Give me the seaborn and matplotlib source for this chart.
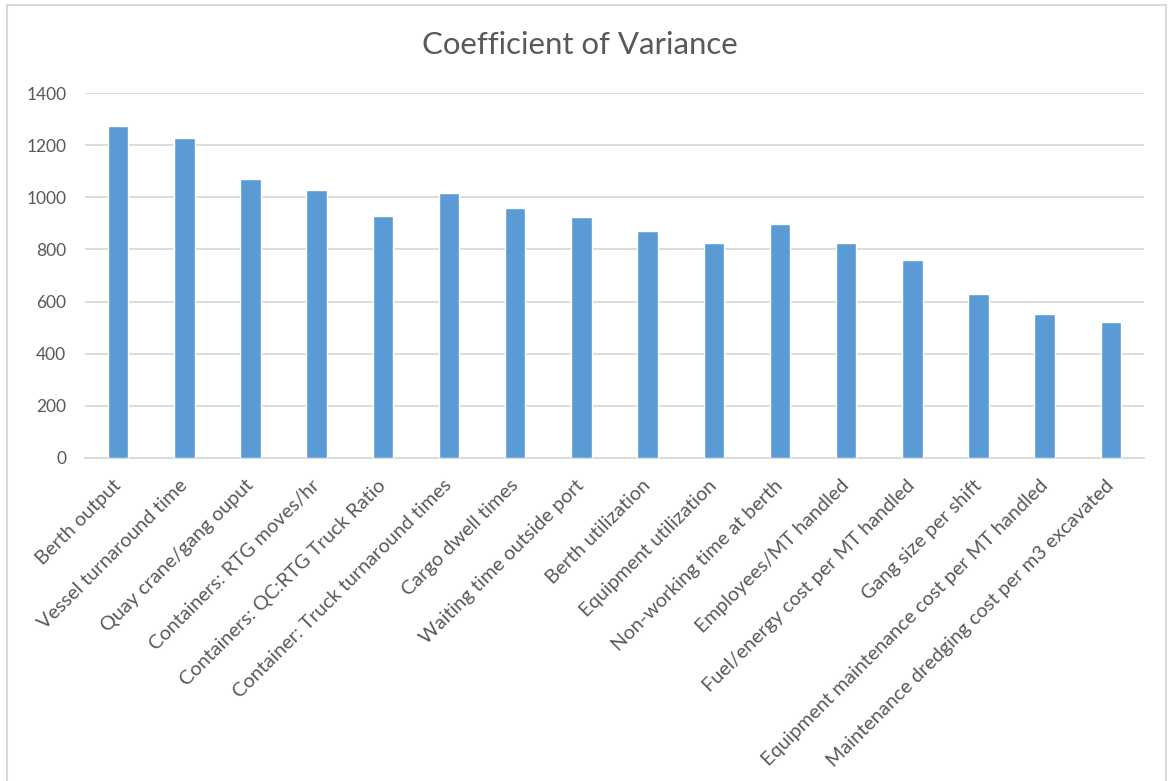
import matplotlib
matplotlib.use("Agg")
import matplotlib.pyplot as plt
import matplotlib.transforms as mtransforms
from matplotlib.patches import Rectangle
import seaborn as sns
import pandas as pd

# Coefficient of variance per port performance indicator
categories = [
    "Berth output",
    "Vessel turnaround time",
    "Quay crane/gang ouput",
    "Containers: RTG moves/hr",
    "Containers: QC:RTG Truck Ratio",
    "Container: Truck turnaround times",
    "Cargo dwell times",
    "Waiting time outside port",
    "Berth utilization",
    "Equipment utilization",
    "Non-working time at berth",
    "Employees/MT handled",
    "Fuel/energy cost per MT handled",
    "Gang size per shift",
    "Equipment maintenance cost per MT handled",
    "Maintenance dredging cost per m3 excavated",
]
values = [1275, 1226, 1071, 1029, 929, 1015, 960, 925,
          872, 824, 898, 824, 759, 629, 551, 521]
y_ticks = [0, 200, 400, 600, 800, 1000, 1200, 1400]

df = pd.DataFrame({"indicator": categories, "cov": values})

sns.set_theme(style="white")
plt.rcParams["font.family"] = ["Lato", "DejaVu Sans"]

text_color = "#595959"
grid_color = "#D9D9D9"
bar_color = "#5B9BD5"

fig = plt.figure(figsize=(11.71, 7.81), dpi=100)
ax = fig.add_axes([85 / 1171, 1 - 458 / 781, (1144 - 85) / 1171, (458 - 93) / 781])

sns.barplot(data=df, x="indicator", y="cov", color=bar_color, width=0.31,
            saturation=1, ax=ax, zorder=3)

ax.set_ylim(0, 1400)
ax.set_xlim(-0.5, len(categories) - 0.5)
ax.set_yticks(y_ticks)
ax.set_yticklabels([str(t) for t in y_ticks], fontsize=12.5, color=text_color)
ax.yaxis.grid(True, color=grid_color, linewidth=1.3, zorder=0)
ax.xaxis.grid(False)
ax.tick_params(axis="y", length=0, pad=13.5)
ax.tick_params(axis="x", length=0, pad=12)
ax.set_xticks(range(len(categories)))
ax.set_xticklabels(categories, rotation=45, ha="right", va="top",
                   rotation_mode="anchor", fontsize=14.3, color=text_color)
# nudge the slanted labels slightly left so they end under the bar centres
shift = mtransforms.ScaledTranslation(-6 / 100, -2 / 100, fig.dpi_scale_trans)
for lbl in ax.get_xticklabels():
    lbl.set_transform(lbl.get_transform() + shift)
ax.set_xlabel("")
ax.set_ylabel("")
for side in ["top", "right", "left"]:
    ax.spines[side].set_visible(False)
ax.spines["bottom"].set_color(grid_color)
ax.spines["bottom"].set_linewidth(1.3)

fig.text(0.495, 0.942, "Coefficient of Variance", ha="center", va="center",
         fontsize=22.4, color=text_color)

# light chart-area frame
fig.patches.append(Rectangle((7 / 1171, -0.01), 1159 / 1171, 1 - 5 / 781 + 0.01,
                             transform=fig.transFigure, fill=False,
                             edgecolor=grid_color, linewidth=1.5))

fig.savefig("out.png", dpi=100)
